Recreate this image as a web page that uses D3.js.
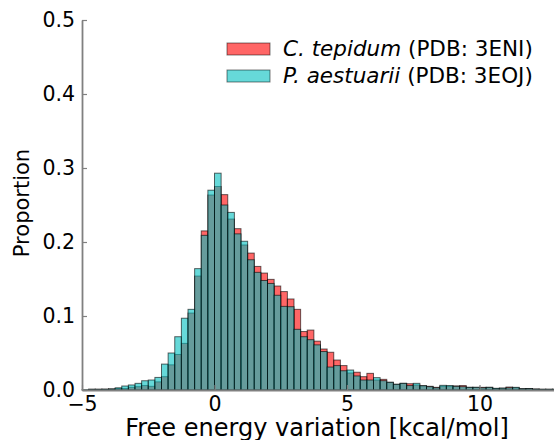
<!DOCTYPE html>
<html>
<head>
    <meta charset="utf-8">
    <style>
        body { margin: 0; background: #fff; }
        svg { display: block; font-family: 'DejaVu Sans', sans-serif; }
    </style>
</head>
<body>
    <svg width="554" height="440"></svg>
    <script src="https://d3js.org/d3.v7.min.js"></script>
    <script>
        // histogram bins (left edges, width 0.25 kcal/mol)
        var binWidth = 0.25;
        var binEdges = [-5, -4.75, -4.5, -4.25, -4, -3.75, -3.5, -3.25, -3, -2.75, -2.5, -2.25,
            -2, -1.75, -1.5, -1.25, -1, -0.75, -0.5, -0.25, 0, 0.25, 0.5, 0.75,
            1, 1.25, 1.5, 1.75, 2, 2.25, 2.5, 2.75, 3, 3.25, 3.5, 3.75,
            4, 4.25, 4.5, 4.75, 5, 5.25, 5.5, 5.75, 6, 6.25, 6.5, 6.75,
            7, 7.25, 7.5, 7.75, 8, 8.25, 8.5, 8.75, 9, 9.25, 9.5, 9.75,
            10, 10.25, 10.5, 10.75, 11, 11.25, 11.5, 11.75, 12, 12.25, 12.5, 12.75];

        // C. tepidum (PDB: 3ENI)
        var tepidum = [0, 0.001, 0.001, 0.001, 0.0014, 0.002, 0.002, 0.0036, 0.0045, 0.006, 0.005, 0.011,
            0.018, 0.034, 0.048, 0.063, 0.104, 0.154, 0.215, 0.2635, 0.275, 0.264, 0.231, 0.218,
            0.196, 0.185, 0.167, 0.158, 0.1495, 0.1405, 0.133, 0.123, 0.109, 0.079, 0.081, 0.066,
            0.0554, 0.051, 0.0405, 0.033, 0.023, 0.024, 0.018, 0.0225, 0.0135, 0.0144, 0.0104, 0.0077,
            0.009, 0.0085, 0.0068, 0.0058, 0.005, 0.0036, 0.005, 0.005, 0.0055, 0.006, 0.0036, 0.0036,
            0.0036, 0.0036, 0.002, 0.0025, 0.004, 0.003, 0.0018, 0.002, 0.0013, 0.001, 0.001, 0.001];

        // P. aestuarii (PDB: 3EOJ)
        var aestuarii = [0.0005, 0.001, 0.001, 0.0012, 0.0015, 0.003, 0.0054, 0.0068, 0.009, 0.0125, 0.0135, 0.017,
            0.035, 0.050, 0.072, 0.097, 0.109, 0.164, 0.209, 0.270, 0.293, 0.250, 0.240, 0.211,
            0.201, 0.176, 0.159, 0.148, 0.144, 0.128, 0.113, 0.1126, 0.082, 0.072, 0.068, 0.061,
            0.052, 0.031, 0.033, 0.026, 0.027, 0.019, 0.0135, 0.0135, 0.0167, 0.0126, 0.0104, 0.0077,
            0.009, 0.006, 0.009, 0.0058, 0.0045, 0.003, 0.0063, 0.006, 0.005, 0.0045, 0.0036, 0.0036,
            0.003, 0.0036, 0.0023, 0.0025, 0.003, 0.0036, 0.0018, 0.002, 0.0013, 0.001, 0.001, 0.001];

        var xTicks = [-5, 0, 5, 10];
        var yTicks = [0, 0.1, 0.2, 0.3, 0.4, 0.5];

        var svg = d3.select("svg");

        var xScale = d3.scaleLinear().domain([-5, 13]).range([82, 559]);
        var yScale = d3.scaleLinear().domain([0, 0.5]).range([390, 20]);

        function drawBars(values, color, cls) {
            svg.append("g")
                .selectAll("rect." + cls)
                .data(values)
                .enter()
                .append("rect")
                .attr("class", cls)
                .attr("x", function (d, i) { return xScale(binEdges[i]); })
                .attr("width", function (d, i) { return xScale(binEdges[i] + binWidth) - xScale(binEdges[i]); })
                .attr("y", function (d) { return yScale(d); })
                .attr("height", function (d) { return yScale(0) - yScale(d); })
                .style("fill", color)
                .style("fill-opacity", 0.6)
                .style("stroke", "#000")
                .style("stroke-opacity", 0.6)
                .style("stroke-width", 1);
        }

        drawBars(tepidum, "#ff0000", "red");
        drawBars(aestuarii, "#00bfbf", "cyan");

        // axes
        var xAxis = svg.append("g")
            .attr("transform", "translate(0," + yScale(0) + ")")
            .call(d3.axisBottom(xScale).tickValues(xTicks).tickSizeInner(-5).tickSizeOuter(0).tickPadding(6));

        var yAxis = svg.append("g")
            .attr("transform", "translate(" + xScale(-5) + ",0)")
            .call(d3.axisLeft(yScale).tickValues(yTicks).tickFormat(d3.format(".1f")).tickSizeInner(-5).tickSizeOuter(0).tickPadding(7));

        [xAxis, yAxis].forEach(function (ax) {
            ax.select(".domain").attr("stroke", "#808080").attr("stroke-width", 1.8);
            ax.selectAll(".tick line").attr("stroke", "#808080").attr("stroke-width", 1.2);
            ax.selectAll(".tick text")
                .attr("fill", "#000")
                .style("font-family", "'DejaVu Sans'")
                .style("font-size", "20.5px");
        });

        // axis labels
        svg.append("text")
            .attr("x", 317)
            .attr("y", 436)
            .attr("text-anchor", "middle")
            .style("font-size", "24px")
            .text("Free energy variation [kcal/mol]");

        svg.append("text")
            .attr("text-anchor", "middle")
            .attr("transform", "translate(29," + (yScale(0.25) - 2) + ")rotate(-90)")
            .style("font-size", "21px")
            .text("Proportion");

        // legend
        var legend = [
            { name: "C. tepidum", rest: " (PDB: 3ENI)", color: "#ff0000" },
            { name: "P. aestuarii", rest: " (PDB: 3EOJ)", color: "#00bfbf" }
        ];

        var lg = svg.append("g").attr("transform", "translate(227,43)");
        legend.forEach(function (d, i) {
            lg.append("rect")
                .attr("x", 0)
                .attr("y", i * 27)
                .attr("width", 43)
                .attr("height", 12)
                .style("fill", d.color)
                .style("fill-opacity", 0.6)
                .style("stroke", "#000")
                .style("stroke-opacity", 0.5)
                .style("stroke-width", 1);
            var t = lg.append("text")
                .attr("x", 56)
                .attr("y", i * 27 + 13)
                .style("font-size", "21.5px");
            t.append("tspan").style("font-style", "italic").text(d.name);
            t.append("tspan").text(d.rest);
        });
    </script>
</body>
</html>
